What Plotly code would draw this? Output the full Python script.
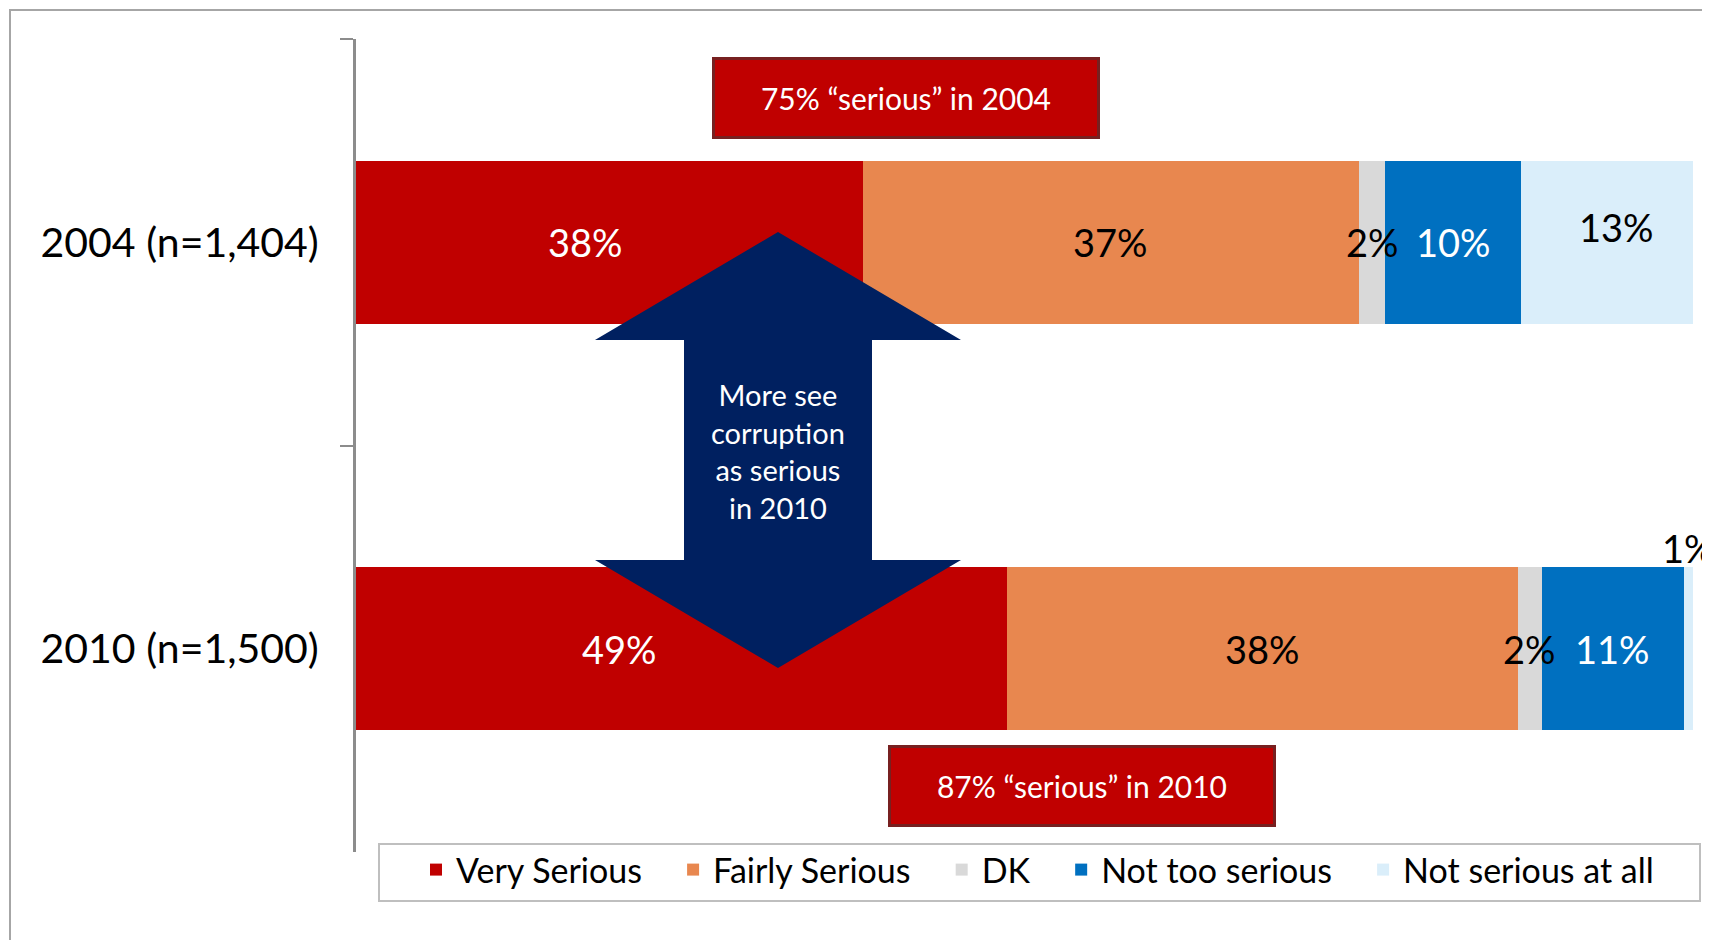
import plotly.graph_objects as go

# ---- data ----
categories = ["2004 (n=1,404)", "2010 (n=1,500)"]
series_names = ["Very Serious", "Fairly Serious", "DK", "Not too serious", "Not serious at all"]
very_serious = [37.9, 48.7]
fairly_serious = [37.1, 38.2]
dk = [2.0, 1.8]
not_too_serious = [10.1, 10.6]
not_serious_at_all = [12.9, 0.7]
series_values = [very_serious, fairly_serious, dk, not_too_serious, not_serious_at_all]
serious_totals = ["75% \u201cserious\u201d in 2004", "87% \u201cserious\u201d in 2010"]
arrow_text = "More see<br>corruption<br>as serious<br>in 2010"

# ---- styles ----
colors = ["#C00000", "#E8874F", "#D9D9D9", "#0070C0", "#DAEEFA"]
text_colors = ["white", "black", "black", "white", "black"]
# manual nudges of value labels (px), as in the original slide
label_nudge = {(0, 0): (-24, 0), (0, 1): (-62, 0), (4, 0): (10, 15)}
FONT = "Lato"
LABEL_SIZE = 38

OFF = 8                      # page body margin
W, H = 1710 - 2 * OFF, 948 - 2 * OFF
# plot area in page pixels
PL, PR, PT, PB = 356, 1693, 39, 852
L, R, T, B = PL - OFF, PR - OFF, PT - OFF, PB - OFF
BAR_HALF_PX = 81


def px(x):
    """page pixel x -> paper"""
    return (x - OFF - L) / (R - L)


def py(y):
    """page pixel y -> paper"""
    return (B - (y - OFF)) / (B - T)


fig = go.Figure()
for k, (name, vals, col) in enumerate(zip(series_names, series_values, colors)):
    pad = "\u00a0" * (3 if k < len(series_names) - 1 else 0)
    fig.add_trace(go.Bar(
        y=categories, x=vals, orientation="h", name=name + pad,
        marker=dict(color=col, line=dict(width=0)),
        hoverinfo="skip",
    ))

# value labels (drawn on top so narrow segments can overflow, as in the original)
for k, (vals, tcol) in enumerate(zip(series_values, text_colors)):
    for i, v in enumerate(vals):
        start = sum(series_values[j][i] for j in range(k))
        dx, dy = label_nudge.get((k, i), (0, 0))
        if v < 1.5:
            fig.add_annotation(x=start + v / 2, y=categories[i], text=f"{v:.0f}%",
                               showarrow=False, yanchor="bottom", yshift=BAR_HALF_PX - 5,
                               font=dict(family=FONT, size=LABEL_SIZE, color="black"))
        else:
            fig.add_annotation(x=start + v / 2, y=categories[i], text=f"{v:.0f}%",
                               showarrow=False, xanchor="center", yanchor="middle",
                               xshift=dx, yshift=dy,
                               font=dict(family=FONT, size=LABEL_SIZE, color=tcol))

# callout boxes (page pixel centers)
box_centers = [(906, 98), (1081.5, 786)]
for txt, (cx, cy) in zip(serious_totals, box_centers):
    fig.add_annotation(xref="paper", yref="paper", x=px(cx), y=py(cy),
                       text=txt, showarrow=False, xanchor="center", yanchor="middle",
                       width=382, height=76, borderpad=0,
                       bgcolor="#C00000", bordercolor="#772020", borderwidth=3,
                       font=dict(family=FONT, size=30, color="white"))

# double arrow
pts = [(778, 232), (961, 340), (872, 340), (872, 560), (961, 560), (778, 668),
       (595, 560), (684, 560), (684, 340), (595, 340)]
path = "M " + " L ".join(f"{px(x):.5f},{py(y):.5f}" for x, y in pts) + " Z"
fig.add_shape(type="path", xref="paper", yref="paper", path=path,
              fillcolor="#002060", line=dict(width=0), layer="above")
fig.add_annotation(xref="paper", yref="paper", x=px(778), y=py(451),
                   text=arrow_text, showarrow=False, xanchor="center", yanchor="middle",
                   font=dict(family=FONT, size=29, color="white"))

# outer frame
fig.add_shape(type="rect", xref="paper", yref="paper",
              x0=px(10), x1=px(1730), y0=py(970), y1=py(10),
              line=dict(color="#A6A6A6", width=2), fillcolor="rgba(0,0,0,0)", layer="above")
# legend frame
fig.add_shape(type="rect", xref="paper", yref="paper",
              x0=px(379), x1=px(1700), y0=py(901), y1=py(844),
              line=dict(color="#BFBFBF", width=2), fillcolor="rgba(0,0,0,0)", layer="above")

fig.update_layout(
    width=W, height=H,
    margin=dict(l=L, r=W - R, t=T, b=H - B, pad=0, autoexpand=False),
    barmode="stack", bargap=0.6,
    plot_bgcolor="white", paper_bgcolor="white",
    font=dict(family=FONT, color="black"),
    xaxis=dict(range=[0, 100], visible=False, showgrid=False, zeroline=False),
    yaxis=dict(categoryorder="array", categoryarray=categories, range=[1.5, -0.5],
               showline=True, linecolor="#8C8C8C", linewidth=3,
               ticks="outside", tickson="boundaries", ticklen=13, tickwidth=2,
               tickcolor="#8C8C8C", ticklabelstandoff=26,
               tickfont=dict(family=FONT, size=41, color="black"),
               showgrid=False, zeroline=False),
    legend=dict(orientation="h", xref="container", yref="container",
                x=(416 - OFF) / W, y=1 - (841 - OFF) / H, xanchor="left", yanchor="top",
                borderwidth=0, bgcolor="rgba(0,0,0,0)",
                font=dict(family=FONT, size=34, color="black"),
                traceorder="normal", itemclick=False, itemdoubleclick=False),
    showlegend=True,
)

fig.write_html("out.html")
